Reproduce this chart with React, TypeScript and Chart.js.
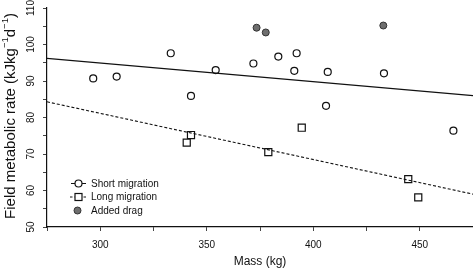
import React, { useEffect, useRef } from "react";
import { Chart, registerables } from "chart.js";

Chart.register(...registerables);

// ---- data ----
const shortMass = [296.7, 307.7, 333.1, 354.2, 342.6, 371.9, 383.6, 392.2, 391.1, 406.8, 433.2, 406.0, 465.8];
const shortFmr = [90.7, 91.2, 97.6, 93.0, 85.9, 94.8, 96.7, 97.6, 92.8, 92.5, 92.1, 83.2, 76.4];

const longMass = [342.6, 340.6, 378.9, 394.6, 444.6, 449.3];
const longFmr = [75.2, 73.1, 70.5, 77.2, 63.1, 58.1];

const dragMass = [373.4, 377.7, 432.9];
const dragFmr = [104.6, 103.3, 105.2];

const fitX = [275, 475];
const shortFit = [96.2, 86.0];
const longFit = [84.3, 59.0];

const xTickLabels = [300, 350, 400, 450];
const yTickLabels = [50, 60, 70, 80, 90, 100, 110];

const legendLabels = ["Short migration", "Long migration", "Added drag"];

const FONT = "'Liberation Sans', Arial, Helvetica, sans-serif";

const toPts = (xs: number[], ys: number[]) => xs.map((x, i) => ({ x, y: ys[i] }));

const labelPlugin = {
  id: "customLabels",
  afterDraw(chart: any) {
    const ctx = chart.ctx as CanvasRenderingContext2D;
    const xs = chart.scales.x;
    const ys = chart.scales.y;
    const area = chart.chartArea;
    ctx.save();
    ctx.fillStyle = "#111";
    // x tick labels
    ctx.font = `10px ${FONT}`;
    ctx.textAlign = "center";
    ctx.textBaseline = "middle";
    xTickLabels.forEach((v) => {
      ctx.fillText(String(v), xs.getPixelForValue(v), area.bottom + 18);
    });
    // y tick labels rotated
    yTickLabels.forEach((v) => {
      ctx.save();
      ctx.translate(31, ys.getPixelForValue(v));
      ctx.rotate(-Math.PI / 2);
      ctx.fillText(String(v), 0, 0);
      ctx.restore();
    });
    // x title
    ctx.font = `12px ${FONT}`;
    ctx.fillText("Mass (kg)", (area.left + area.right) / 2, 262);
    // y title with superscripts
    ctx.save();
    ctx.translate(11, 116);
    ctx.rotate(-Math.PI / 2);
    const parts: [string, boolean][] = [
      ["Field metabolic rate (kJkg", false],
      ["\u22121", true],
      ["d", false],
      ["\u22121", true],
      [")", false],
    ];
    const mainFont = `15px ${FONT}`;
    const supFont = `9.5px ${FONT}`;
    let total = 0;
    parts.forEach(([t, sup]) => {
      ctx.font = sup ? supFont : mainFont;
      total += ctx.measureText(t).width;
    });
    let cx = -total / 2;
    ctx.textAlign = "left";
    ctx.textBaseline = "middle";
    parts.forEach(([t, sup]) => {
      ctx.font = sup ? supFont : mainFont;
      ctx.fillText(t, cx, sup ? -5.5 : 0);
      cx += ctx.measureText(t).width;
    });
    ctx.restore();

    // legend
    const rows = [183.5, 197, 210.5];
    const sx = 78.5;
    ctx.font = `10px ${FONT}`;
    ctx.textAlign = "left";
    ctx.textBaseline = "middle";
    // row 1: line + open circle
    ctx.strokeStyle = "#111";
    ctx.lineWidth = 1;
    ctx.setLineDash([]);
    ctx.beginPath();
    ctx.moveTo(71, rows[0]);
    ctx.lineTo(86, rows[0]);
    ctx.stroke();
    ctx.beginPath();
    ctx.arc(sx, rows[0], 3.5, 0, Math.PI * 2);
    ctx.fillStyle = "#fff";
    ctx.fill();
    ctx.lineWidth = 1.2;
    ctx.stroke();
    // row 2: dashed + square
    ctx.lineWidth = 1;
    ctx.setLineDash([2.5, 2]);
    ctx.beginPath();
    ctx.moveTo(70, rows[1]);
    ctx.lineTo(87, rows[1]);
    ctx.stroke();
    ctx.setLineDash([]);
    ctx.fillStyle = "#fff";
    ctx.fillRect(sx - 3.5, rows[1] - 3.5, 7, 7);
    ctx.lineWidth = 1.2;
    ctx.strokeRect(sx - 3.5, rows[1] - 3.5, 7, 7);
    // row 3: filled circle
    ctx.beginPath();
    ctx.arc(sx - 1, rows[2], 3.5, 0, Math.PI * 2);
    ctx.fillStyle = "#6e6e6e";
    ctx.fill();
    ctx.strokeStyle = "#333";
    ctx.lineWidth = 1;
    ctx.stroke();
    ctx.fillStyle = "#111";
    legendLabels.forEach((l, i) => ctx.fillText(l, 91, rows[i] + 0.5));
    ctx.restore();
  },
};

export default function App() {
  const ref = useRef<HTMLCanvasElement | null>(null);
  useEffect(() => {
    if (!ref.current) return;
    const chart = new Chart(ref.current, {
      type: "scatter",
      data: {
        datasets: [
          {
            type: "line",
            label: "short fit",
            data: toPts(fitX, shortFit),
            borderColor: "#111",
            borderWidth: 1.1,
            pointRadius: 0,
            fill: false,
          } as any,
          {
            type: "line",
            label: "long fit",
            data: toPts(fitX, longFit),
            borderColor: "#111",
            borderWidth: 1.1,
            borderDash: [3, 2],
            pointRadius: 0,
            fill: false,
          } as any,
          {
            label: legendLabels[0],
            data: toPts(shortMass, shortFmr),
            pointStyle: "circle",
            pointRadius: 3.5,
            pointBackgroundColor: "#fff",
            pointBorderColor: "#111",
            pointBorderWidth: 1.2,
          },
          {
            label: legendLabels[1],
            data: toPts(longMass, longFmr),
            pointStyle: "rect",
            pointRadius: 5,
            pointBackgroundColor: "#fff",
            pointBorderColor: "#111",
            pointBorderWidth: 1.2,
          },
          {
            label: legendLabels[2],
            data: toPts(dragMass, dragFmr),
            pointStyle: "circle",
            pointRadius: 3.5,
            pointBackgroundColor: "#6e6e6e",
            pointBorderColor: "#333",
            pointBorderWidth: 1,
          },
        ],
      },
      options: {
        responsive: false,
        animation: false,
        layout: { autoPadding: false, padding: { top: 8, right: 0, left: 0, bottom: 0 } },
        plugins: { legend: { display: false }, tooltip: { enabled: false } },
        scales: {
          x: {
            type: "linear",
            min: 275,
            max: 475,
            ticks: { stepSize: 25, display: false },
            grid: { drawOnChartArea: false, drawTicks: true, tickLength: 4, color: "#444" },
            border: { display: true, color: "#111", width: 1.2 },
            afterFit: (s: any) => {
              s.height = 43;
            },
          },
          y: {
            type: "linear",
            min: 50,
            max: 110,
            ticks: { stepSize: 5, display: false },
            grid: { drawOnChartArea: false, drawTicks: true, tickLength: 4, color: "#444" },
            border: { display: true, color: "#111", width: 1.2 },
            afterFit: (s: any) => {
              s.width = 47;
            },
          },
        },
      },
      plugins: [labelPlugin],
    });
    return () => chart.destroy();
  }, []);
  return (
    <div style={{ position: "fixed", left: 0, top: 0, width: 473, height: 270, background: "#fff" }}>
      <canvas ref={ref} width={473} height={270} />
    </div>
  );
}
